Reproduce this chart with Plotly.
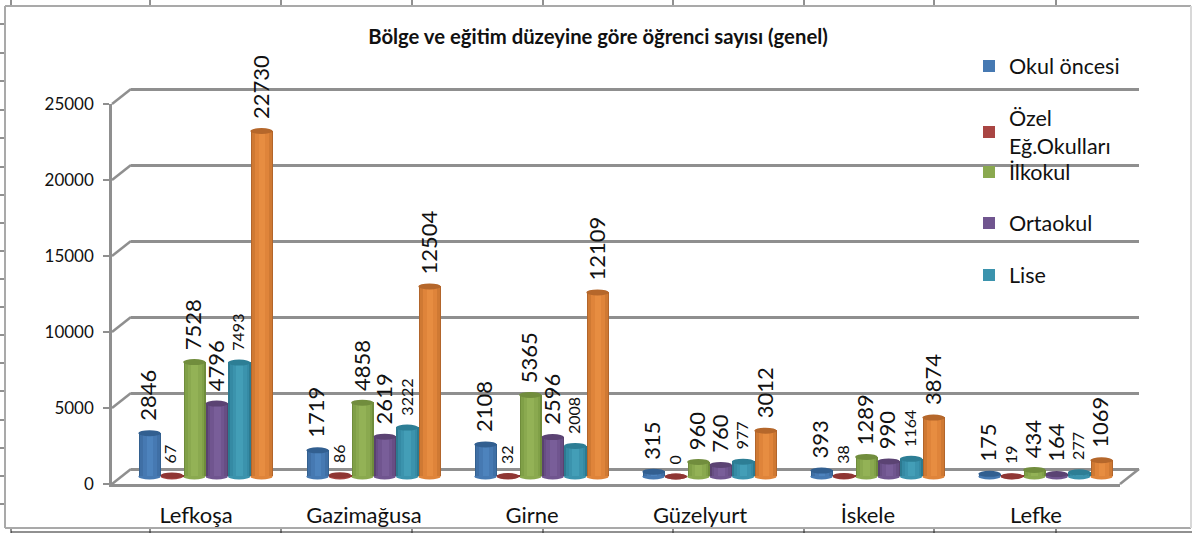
import plotly.graph_objects as go

W, H = 1192, 533

title = "Bölge ve eğitim düzeyine göre öğrenci sayısı (genel)"
regions = ["Lefkoşa", "Gazimağusa", "Girne", "Güzelyurt", "İskele", "Lefke"]
okul_oncesi = [2846, 1719, 2108, 315, 393, 175]
ozel = [67, 86, 32, 0, 38, 19]
ilkokul = [7528, 4858, 5365, 960, 1289, 434]
ortaokul = [4796, 2619, 2596, 760, 990, 164]
lise = [7493, 3222, 2008, 977, 1164, 277]
toplam = [22730, 12504, 12109, 3012, 3874, 1069]
y_ticks = [0, 5000, 10000, 15000, 20000, 25000]
y_tick_text = ["0", "5000", "10000", "15000", "20000", "25000"]

series = [
    # name, values, shades from edge to centre, cap, label size, legend id, legend centre y
    ("Okul öncesi", okul_oncesi, ["#33608f", "#3f6fa5", "#4679b2", "#4d83bd"], "#325f90", 22, "legend", 66),
    ("Özel<br>Eğ.Okulları", ozel, ["#8c3533", "#9e403e", "#a94543", "#b04c49"], "#8f3634", 16, "legend2", 132),
    ("İlkokul", ilkokul, ["#6f8c3b", "#80a047", "#8aa94f", "#93b256"], "#718d3d", 22, "legend3", 172),
    ("Ortaokul", ortaokul, ["#59426f", "#674e84", "#70558f", "#795e99"], "#5b4373", 22, "legend4", 223),
    ("Lise", lise, ["#2c7a90", "#358aa4", "#3b93ad", "#439eb7"], "#2d7e95", 16, "legend5", 275),
    ("Toplam", toplam, ["#b2652b", "#cf7933", "#df843a", "#e78d41"], "#b5672b", 22, None, None),
]
layer_widths = [1.0, 0.86, 0.62, 0.3]

FONT = "Lato, Carlito, Calibri, sans-serif"
GRID = "#8f8f8f"
BAR_PX = 22.4
GROUP_PX = 168.0
MID_L, FRONT_L, BACK_L = 121.5, 112.0, 131.0
FRONT_B, MID_B, BACK_B = 484.0, 476.5, 469.0
PX_PER_UNIT = 380 / 25000
PAD = 1000
pad_px = PAD * PX_PER_UNIT


def xdom(left):
    return [left / W, (left + GROUP_PX * 6) / W]


def ydom(bottom_px, top_px):
    return [1 - bottom_px / H, 1 - top_px / H]


fig = go.Figure()
# empty traces so that the back-wall and front-axis subplots exist
fig.add_trace(go.Scatter(x=[None], y=[None], xaxis="x", yaxis="y", showlegend=False, hoverinfo="skip"))
fig.add_trace(go.Scatter(x=[None], y=[None], xaxis="x2", yaxis="y2", showlegend=False, hoverinfo="skip"))

bw = BAR_PX / GROUP_PX
centers = [[g + 0.5 + (si - 2.5) * bw for g in range(len(regions))] for si in range(len(series))]

for si, (name, vals, shades, cap, fs, leg, _) in enumerate(series):
    for li, (shade, lw) in enumerate(zip(shades, layer_widths)):
        kw = dict(showlegend=False, hoverinfo="skip")
        if li == 2:
            kw = dict(name=name, showlegend=bool(leg))
            if leg:
                kw["legend"] = leg
        fig.add_trace(go.Bar(x=centers[si], y=vals, width=bw * lw, marker=dict(color=shade, line_width=0),
                             xaxis="x3", yaxis="y3", **kw))

shapes = []
annotations = []
half = BAR_PX / 2
for si, (name, vals, shades, cap, fs, leg, _) in enumerate(series):
    for cx, v in zip(centers[si], vals):
        shapes.append(dict(type="circle", xref="x3", yref="y3", xsizemode="pixel", ysizemode="pixel",
                           xanchor=cx, yanchor=0, x0=-half, x1=half, y0=-3, y1=3,
                           fillcolor=shades[2], line_width=0, layer="below"))
        shapes.append(dict(type="circle", xref="x3", yref="y3", xsizemode="pixel", ysizemode="pixel",
                           xanchor=cx, yanchor=v, x0=-half, x1=half, y0=-3, y1=3,
                           fillcolor=cap, line_width=0, layer="above"))
        annotations.append(dict(xref="x3", yref="y3", x=cx, y=v, text=str(v), textangle=-90, showarrow=False,
                                xanchor="center", yanchor="bottom", xshift=-1.5, yshift=10,
                                font=dict(family=FONT, size=fs, color="#111111")))


def px_line(x0, y0, x1, y1, color, width, layer="above"):
    return dict(type="line", xref="paper", yref="paper", x0=x0 / W, x1=x1 / W,
                y0=1 - y0 / H, y1=1 - y1 / H, line=dict(color=color, width=width), layer=layer)


# depth diagonals from the front axis to the back wall
for v in y_ticks:
    shapes.append(px_line(FRONT_L, FRONT_B - v * PX_PER_UNIT, BACK_L, BACK_B - v * PX_PER_UNIT, GRID, 2.5, "below"))
shapes.append(px_line(FRONT_L + GROUP_PX * 6, FRONT_B, BACK_L + GROUP_PX * 6, BACK_B, GRID, 2.5, "below"))

# page frame and the sheet's cell marks around it
FRAME = "#a9a9a9"
shapes += [px_line(5, 6, 1191, 6, FRAME, 2), px_line(5, 6, 5, 528, FRAME, 2),
           px_line(5, 528, 1191, 528, FRAME, 2), px_line(1191, 6, 1191, 528, "#d8d8d8", 2),
           px_line(11, 532, 1192, 532, "#222222", 1)]
for x in [11, 150, 281, 412, 543, 673, 804, 934, 1056]:
    shapes.append(px_line(x, 0, x, 5, "#222222", 1))
    shapes.append(px_line(x, 529, x, 533, "#222222", 1))
for y in [24, 53, 81, 110, 138, 167, 195, 223, 251, 279, 307, 335, 363, 391, 420, 448, 476, 504]:
    shapes.append(px_line(0, y, 4, y, "#222222", 1))

layout = dict(
    width=W, height=H, margin=dict(l=0, r=0, t=0, b=0, pad=0, autoexpand=False),
    paper_bgcolor="white", plot_bgcolor="rgba(0,0,0,0)", barmode="overlay", bargap=0,
    font=dict(family=FONT, color="#111111"),
    title=dict(text=f"<b>{title}</b>", x=598 / W, xanchor="center", y=1 - 37 / H, yanchor="middle",
               font=dict(family=FONT, size=20.3, color="#111111")),
    shapes=shapes, annotations=annotations,
    # back wall
    xaxis=dict(domain=xdom(BACK_L), range=[0, 6], anchor="y", visible=False),
    yaxis=dict(domain=ydom(BACK_B + pad_px, BACK_B - 380 - pad_px), range=[-PAD, 25000 + PAD], anchor="x",
               tickvals=y_ticks, showgrid=True, gridcolor=GRID, gridwidth=2.5, zeroline=False,
               showticklabels=False, ticks="", showline=False),
    # front axes with the labels
    xaxis2=dict(domain=xdom(FRONT_L), range=[0, 6], anchor="y2", tickvals=[g + 0.5 for g in range(6)],
                ticktext=regions, showgrid=False, zeroline=False, showline=True, linecolor=GRID, linewidth=2.5,
                ticks="outside", ticklen=10, tickcolor="rgba(0,0,0,0)",
                tickfont=dict(family=FONT, size=22, color="#111111")),
    yaxis2=dict(domain=ydom(FRONT_B, FRONT_B - 380), range=[0, 25000], anchor="x2", tickvals=y_ticks,
                ticktext=y_tick_text, showgrid=False, zeroline=False, showline=True, linecolor=GRID, linewidth=2.5,
                ticks="outside", ticklen=6, tickwidth=2, tickcolor=GRID, ticklabelstandoff=6,
                tickfont=dict(family=FONT, size=17, color="#111111")),
    # bars
    xaxis3=dict(domain=xdom(MID_L), range=[0, 6], anchor="y3", visible=False),
    yaxis3=dict(domain=ydom(MID_B + pad_px, MID_B - 380 - pad_px), range=[-PAD, 25000 + PAD], anchor="x3",
                visible=False),
)
for name, vals, shades, cap, fs, leg, ly in series:
    if leg:
        layout[leg] = dict(x=969 / W, xanchor="left", y=1 - ly / H, yanchor="middle",
                           bgcolor="rgba(0,0,0,0)", borderwidth=0, itemclick=False, itemdoubleclick=False,
                           font=dict(family=FONT, size=21.5, color="#111111"))
fig.update_layout(**layout)
fig.write_html("out.html", config={"displayModeBar": False}, post_script="document.body.style.margin='0';")
